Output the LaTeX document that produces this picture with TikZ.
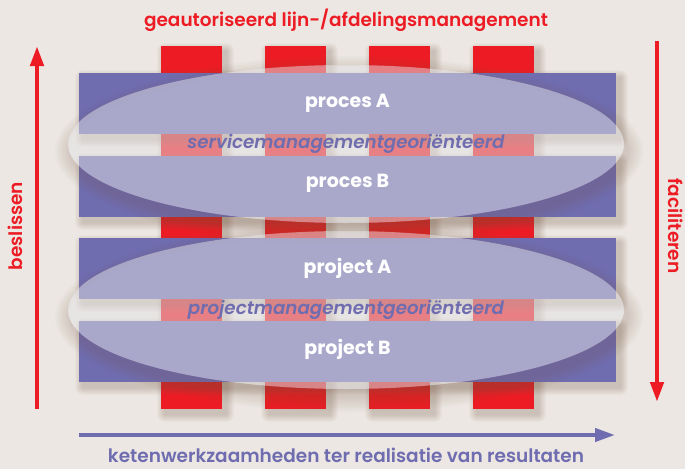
\documentclass[tikz,border=0pt]{standalone}
\usepackage{fontspec}
\setmainfont{Poppins}
\newfontfamily\medfont{Poppins SemiBold}[ItalicFont={Poppins SemiBold Italic}]
\usetikzlibrary{arrows.meta,shapes.geometric}
\definecolor{bgc}{HTML}{ECE7E3}
\definecolor{redc}{HTML}{ED1C24}
\definecolor{bluec}{HTML}{6F6DB0}
\definecolor{ellc}{HTML}{E4E3E6}
\definecolor{shc}{HTML}{7A5A45}
\tikzset{
  redcol/.style={rectangle, fill=redc, draw=none, inner sep=0pt, minimum width=61pt, minimum height=363pt},
  bluebar/.style={rectangle, fill=bluec, draw=none, inner sep=0pt, minimum width=537pt, minimum height=61pt},
  ovalbox/.style={ellipse, fill=ellc, fill opacity=0.5, text opacity=1, draw=none, inner sep=0pt,
     minimum width=556pt, minimum height=158pt, text=bluec, font=\medfont\fontsize{18.3}{20}\selectfont\itshape},
  barlabel/.style={text=white, font=\fontsize{19}{20}\selectfont\bfseries, inner sep=0pt},
  sidelabel/.style={font=\medfont\fontsize{18.5}{20}\selectfont, inner sep=0pt},
  redarrow/.style={draw=redc, line width=4.5pt, -{Triangle[width=13pt,length=20pt]}},
  bluearrow/.style={draw=bluec, line width=4pt, -{Triangle[width=13pt,length=20pt]}},
}
\newcommand\rectshadow[4]{%
  \foreach \r in {1,...,8}{%
    \fill[shc, opacity=0.035, rounded corners=\r pt] ({#1+4-\r},{#2+5-\r}) rectangle ({#3+4+\r},{#4+5+\r});
  }}
\newcommand\ovalshadow[2]{%
  \foreach \r in {2,4,...,16}{%
    \fill[shc, opacity=0.028, even odd rule] ({#1+3},{#2+7}) ellipse [x radius={278+\r}, y radius={79+\r}]
       (#1,#2) ellipse [x radius=278, y radius=79];
  }}
\begin{document}
\begin{tikzpicture}[x=1pt,y=-1pt]
\fill[bgc] (0,0) rectangle (685,469);
\useasboundingbox (0,0) rectangle (685,469);
% red columns
\foreach \xa in {161,265,369,473}{\rectshadow{\xa}{46}{\xa+61}{409}}
\foreach \i/\xc in {1/191.5,2/295.5,3/399.5,4/503.5}{\node[redcol] (c\i) at (\xc,227.5) {};}
% blue bars
\rectshadow{79}{73}{616}{134}
\rectshadow{79}{156}{616}{217}
\rectshadow{79}{238}{616}{299}
\rectshadow{79}{321}{616}{382}
\node[bluebar] (pA) at (347.5,103.5) {};
\node[bluebar] (pB) at (347.5,186.5) {};
\node[bluebar] (jA) at (347.5,268.5) {};
\node[bluebar] (jB) at (347.5,351.5) {};
% ovals
\ovalshadow{346}{144}
\ovalshadow{346}{310}
\node[ovalbox] (e1) at (346,144) {servicemanagementgeoriënteerd};
\node[ovalbox] (e2) at (346,310) {projectmanagementgeoriënteerd};
% bar labels
\node[barlabel] (tA) at (pA.center) {proces A};
\node[barlabel] (tB) at ([yshift=3pt]pB.center) {proces B};
\node[barlabel] (tC) at (jA.center) {project A};
\node[barlabel] (tD) at ([yshift=2pt]jB.center) {project B};
% arrows
\coordinate (lbot) at (37,409); \coordinate (ltop) at (37,46);
\coordinate (rtop) at (657,41); \coordinate (rbot) at (657,402);
\coordinate (bl) at (79,435); \coordinate (br) at (615,435);
\draw[redarrow] (lbot) -- (ltop);
\draw[redarrow] (rtop) -- (rbot);
\draw[bluearrow] (bl) -- (br);
% texts
\node[sidelabel, text=redc] (title) at (346,20) {geautoriseerd lijn-/afdelingsmanagement};
\node[sidelabel, text=redc, rotate=90] (bes) at (15,226) {beslissen};
\node[sidelabel, text=redc, rotate=-90] (fac) at (676,226) {faciliteren};
\node[sidelabel, text=bluec] (keten) at (346,455.5) {ketenwerkzaamheden ter realisatie van resultaten};
\end{tikzpicture}
\end{document}
